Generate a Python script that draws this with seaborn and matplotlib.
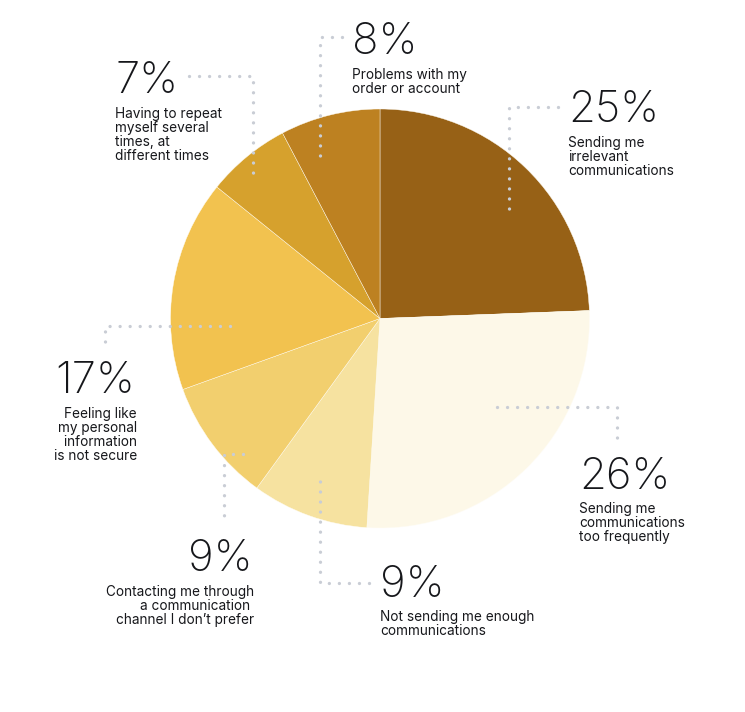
import matplotlib
matplotlib.use('Agg')
import matplotlib.pyplot as plt
import seaborn as sns

# Reasons customers find communications frustrating
# wedge sizes, labels as printed
shares = [24.4, 26.6, 9.0, 9.5, 16.3, 6.5, 7.7]
share_labels = ['25%', '26%', '9%', '9%', '17%', '7%', '8%']
reasons = [
    'Sending me\nirrelevant\ncommunications',
    'Sending me\ncommunications\ntoo frequently',
    'Not sending me enough\ncommunications',
    'Contacting me through\na communication \nchannel I don\u2019t prefer',
    'Feeling like\nmy personal\n information\nis not secure',
    'Having to repeat\nmyself several\ntimes, at\ndifferent times',
    'Problems with my\norder or account',
]
slice_colors = ['#976116', '#fdf8e8', '#f6e2a0', '#f2cf6e',
                '#f2c24f', '#d6a12d', '#bd8121']

sns.set_theme(style='white')
plt.rcParams['font.family'] = ['Inter', 'DejaVu Sans']

fig = plt.figure(figsize=(7.45, 7.12), dpi=100)
ax = fig.add_axes([0, 0, 1, 1])

# y axis is flipped below, so counterclock in data = clockwise on screen
ax.pie(shares, colors=slice_colors, startangle=-90, counterclock=True,
       center=(380, 318.5), radius=209.5,
       wedgeprops=dict(edgecolor='#fffdf5', linewidth=0.3))
ax.set_xlim(0, 745)
ax.set_ylim(712, 0)
ax.set_aspect('auto')
ax.axis('off')

# label layout in pixels: number x, number baseline, align, caption x, caption baseline, leader
layout = [
    (568, 122, 'left', 568, 147, [(558, 107), (509, 107), (509, 217)]),
    (579, 489, 'left', 579, 513, [(497, 407), (617, 407), (617, 442)]),
    (380, 597, 'left', 380, 621, [(369, 583), (320, 583), (320, 473)]),
    (253, 571, 'right', 254, 596, [(243, 454), (224, 454), (224, 524)]),
    (135, 393, 'right', 137, 418, [(230, 326), (105, 326), (105, 346)]),
    (115, 93, 'left', 115, 118, [(189, 76), (253, 76), (253, 182)]),
    (352, 54, 'left', 352, 79, [(342, 37), (320, 37), (320, 160)]),
]

ink = '#16171b'
for lab, reason, (nx, ny, ha, cx, cy, path) in zip(share_labels, reasons, layout):
    xs = [p[0] for p in path]
    ys = [p[1] for p in path]
    ax.plot(xs, ys, color='#c9cdd5', lw=2.4, linestyle=(0, (0.01, 3.0)),
            dash_capstyle='round', zorder=3)
    ax.text(nx, ny, lab, ha=ha, va='baseline', fontsize=31.5,
            fontweight='light', color=ink)
    for i, line in enumerate(reason.split('\n')):
        ax.text(cx, cy + i * 14, line, ha=ha, va='baseline', fontsize=9.8,
                color=ink)

fig.savefig('out.png', dpi=100, facecolor='white')
